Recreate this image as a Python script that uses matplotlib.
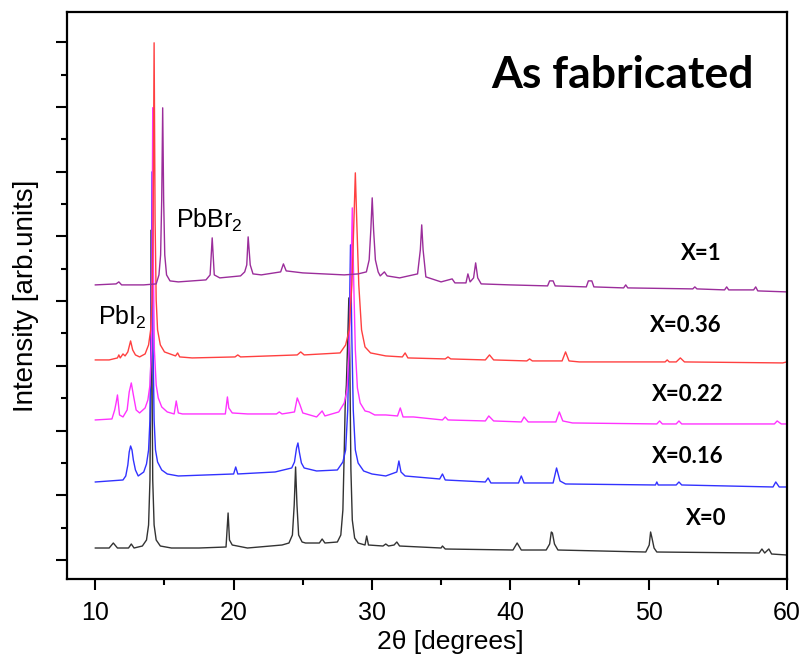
import numpy as np
import matplotlib
matplotlib.use("Agg")
import matplotlib.pyplot as plt
from matplotlib.ticker import MultipleLocator

plt.rcParams['font.family'] = ['Liberation Sans', 'DejaVu Sans']
plt.rcParams['mathtext.fontset'] = 'custom'
plt.rcParams['mathtext.rm'] = 'Liberation Sans'

# XRD patterns, intensity in arbitrary units (already stacked as in the figure)
x0_deg = [10.0, 11.0, 11.3, 11.6, 12.4, 12.6, 12.8, 13.4, 13.7, 13.85, 13.95, 14.0, 14.05, 14.1,
          14.15, 14.25, 14.4, 14.7, 15.5, 17.5, 19.45, 19.6, 19.7, 19.9, 21.0, 23.5, 24.0, 24.25,
          24.38, 24.48, 24.58, 24.7, 24.95, 25.2, 26.2, 26.4, 26.6, 27.5, 27.75, 27.9, 28.0,
          28.07, 28.15, 28.25, 28.33, 28.4, 28.48, 28.58, 28.75, 29.0, 29.5, 29.62, 29.75, 30.8,
          31.0, 31.2, 31.6, 31.8, 32.0, 35.0, 35.1, 35.3, 40.2, 40.5, 40.8, 42.6, 42.85, 42.97,
          43.05, 43.2, 43.45, 49.8, 50.05, 50.15, 50.25, 50.4, 50.6, 58.0, 58.2, 58.4, 58.7, 58.9,
          60.0]
x0_int = [12, 12, 17, 12, 12, 16, 12, 14, 20, 35, 80, 180, 330, 180,
          80, 35, 20, 14, 12, 12, 13, 47, 20, 15, 12, 15, 17, 25,
          55, 93, 55, 25, 18, 17, 17, 21, 17, 18, 25, 50, 110,
          157, 175, 220, 262, 200, 90, 40, 22, 17, 15, 24, 15, 14,
          16, 14, 15, 18, 14, 12, 14, 11, 10, 17, 10, 10, 16, 28,
          27, 16, 10, 8, 15, 28, 22, 12, 8, 7, 11, 7, 11, 6,
          5]

x016_deg = [10.0, 11.0, 12.0, 12.2, 12.35, 12.45, 12.55, 12.65, 12.75, 12.9, 13.1, 13.5, 13.7, 13.85,
            13.95, 14.03, 14.1, 14.17, 14.25, 14.35, 14.5, 14.8, 15.2, 16.0, 20.0, 20.15, 20.3,
            23.0, 24.2, 24.4, 24.55, 24.65, 24.75, 24.9, 25.1, 26.0, 27.5, 27.9, 28.1, 28.25,
            28.35, 28.45, 28.55, 28.65, 28.8, 29.0, 29.4, 30.0, 31.0, 31.8, 31.95, 32.1, 32.4,
            34.9, 35.1, 35.3, 38.2, 38.4, 38.6, 40.6, 40.8, 41.0, 43.1, 43.35, 43.6, 44.0, 50.5,
            50.6, 50.7, 52.0, 52.2, 52.4, 59.0, 59.2, 59.45, 60.0]
x016_int = [78, 79, 80, 84, 95, 108, 114, 110, 100, 90, 84, 88, 96, 110,
            140, 220, 388, 220, 140, 110, 98, 90, 86, 84, 86, 93, 86,
            88, 92, 98, 112, 117, 108, 97, 92, 89, 90, 98, 110, 150,
            220, 315, 220, 150, 110, 97, 89, 86, 84, 88, 99, 88, 84,
            81, 86, 80, 78, 82, 77, 77, 84, 77, 77, 92, 79, 76, 75,
            78, 75, 75, 78, 75, 73, 78, 73, 73]

x022_deg = [10.0, 11.2, 11.4, 11.5, 11.6, 11.75, 12.0, 12.3, 12.45, 12.6, 12.75, 12.95, 13.2, 13.6,
            13.8, 13.95, 14.05, 14.1, 14.15, 14.2, 14.27, 14.4, 14.55, 14.8, 15.2, 15.7, 15.85,
            16.0, 16.3, 19.4, 19.55, 19.65, 19.9, 21.0, 23.1, 23.3, 23.5, 24.4, 24.6, 24.8, 25.0,
            26.0, 26.4, 26.6, 27.6, 28.0, 28.2, 28.35, 28.48, 28.58, 28.68, 28.8, 28.95, 29.15,
            29.5, 29.8, 30.2, 31.0, 31.85, 32.05, 32.25, 33.0, 35.1, 35.3, 35.5, 38.2, 38.45, 38.8,
            40.8, 41.0, 41.3, 43.3, 43.55, 43.8, 44.5, 50.6, 50.8, 51.0, 52.0, 52.2, 52.4, 59.1,
            59.3, 59.6, 60.0]
x022_int = [140, 141, 150, 157, 165, 145, 143, 150, 168, 177, 165, 150, 147, 152,
            160, 175, 210, 290, 452, 290, 210, 175, 162, 153, 148, 146, 159,
            147, 146, 146, 163, 152, 147, 146, 146, 148, 146, 148, 162, 155, 147,
            143, 149, 144, 148, 157, 170, 210, 280, 352, 280, 210, 172, 157,
            149, 148, 145, 145, 144, 152, 143, 143, 140, 143, 140, 139, 144, 139,
            138, 143, 138, 138, 148, 139, 137, 136, 139, 136, 136, 139, 136, 136,
            139, 136, 136]

x036_deg = [10.0, 11.0, 11.6, 11.7, 11.8, 12.0, 12.15, 12.35, 12.55, 12.7, 12.9, 13.2, 13.6, 13.85,
            14.0, 14.1, 14.18, 14.25, 14.32, 14.4, 14.5, 14.7, 15.0, 15.8, 15.95, 16.1, 17.0,
            20.1, 20.3, 20.5, 24.6, 24.85, 25.1, 27.7, 28.1, 28.35, 28.55, 28.7, 28.8, 28.9,
            29.05, 29.25, 29.5, 29.9, 31.0, 32.2, 32.4, 32.6, 35.3, 35.5, 35.7, 38.2, 38.5, 38.8,
            41.2, 41.4, 41.6, 43.75, 44.0, 44.25, 45.0, 51.2, 51.35, 51.5, 52.0, 52.3, 52.6, 59.7,
            60.0]
x036_int = [200, 200, 202, 205, 202, 206, 204, 208, 219, 210, 205, 203, 206, 215,
            230, 260, 340, 517, 340, 260, 230, 215, 208, 204, 207, 203, 202,
            203, 205, 203, 205, 208, 205, 207, 215, 230, 275, 340, 387, 340,
            275, 230, 213, 207, 204, 203, 207, 202, 201, 203, 201, 200, 205, 200,
            199, 201, 199, 199, 208, 199, 198, 198, 200, 198, 198, 202, 198, 197,
            198]

x1_deg = [10.0, 11.5, 11.7, 11.9, 13.5, 14.4, 14.6, 14.72, 14.8, 14.87, 14.94, 15.02, 15.15, 15.4,
          16.0, 18.0, 18.3, 18.45, 18.6, 19.0, 20.5, 20.8, 20.95, 21.05, 21.2, 21.4, 22.0, 23.4,
          23.6, 23.8, 25.0, 28.0, 29.0, 29.6, 29.8, 29.92, 30.02, 30.12, 30.25, 30.45, 30.6,
          30.9, 31.1, 32.0, 33.3, 33.5, 33.6, 33.7, 33.9, 35.0, 35.8, 36.0, 36.8, 36.94, 37.1,
          37.35, 37.5, 37.65, 37.9, 40.0, 42.7, 42.85, 43.1, 43.25, 45.5, 45.65, 45.9, 46.05,
          48.2, 48.35, 48.5, 53.2, 53.35, 53.5, 55.5, 55.65, 55.8, 57.6, 57.75, 57.9, 60.0]
x1_int = [275, 276, 278, 275, 275, 276, 285, 305, 360, 452, 360, 305, 285, 279,
          278, 280, 285, 322, 285, 282, 284, 288, 295, 323, 295, 286, 285, 288,
          296, 289, 287, 285, 286, 288, 300, 330, 362, 330, 300, 288, 284,
          288, 284, 282, 286, 310, 335, 310, 283, 278, 281, 277, 277, 286, 278,
          282, 297, 282, 276, 275, 274, 279, 279, 274, 273, 279, 279, 273,
          272, 275, 272, 271, 273, 271, 270, 273, 270, 270, 273, 269, 268]

series = [
    (x0_deg, x0_int, '#333333'),
    (x016_deg, x016_int, '#3232ff'),
    (x022_deg, x022_int, '#ff33ff'),
    (x036_deg, x036_int, '#ff4040'),
    (x1_deg, x1_int, '#9b2d9b'),
]

fig = plt.figure(figsize=(8.07, 6.55), dpi=100)
ax = fig.add_axes([0.083, 0.116, 0.892, 0.866])

for xs, ys, col in series:
    ax.plot(xs, ys, color=col, lw=1.0)

# composition labels
lab_font = dict(ha='right', va='center', fontsize=16, fontweight='bold', family='Lato')
ax.text(55.3, 306, 'X=1', **lab_font)
ax.text(55.3, 234, 'X=0.36', **lab_font)
ax.text(55.4, 165, 'X=0.22', **lab_font)
ax.text(55.4, 103, 'X=0.16', **lab_font)
ax.text(55.6, 41, 'X=0', **lab_font)

ax.text(15.86, 332, 'PbBr$_2$', fontsize=18, ha='left', va='baseline')
ax.text(10.18, 235, 'PbI$_2$', fontsize=18, ha='left', va='baseline')

ax.text(0.7715, 0.866, 'As fabricated', transform=ax.transAxes, ha='center', va='baseline',
        fontsize=32, fontweight='bold', family='Lato')

ax.set_xlim(7.95, 60)
ax.set_ylim(-19, 548)
ax.xaxis.set_major_locator(MultipleLocator(10))
ax.xaxis.set_minor_locator(MultipleLocator(5))
ax.yaxis.set_major_locator(MultipleLocator(64.7))
ax.yaxis.set_minor_locator(MultipleLocator(32.35))
ax.set_xticks([10, 20, 30, 40, 50, 60])
ax.tick_params(which='major', direction='out', length=8, width=1.5, labelsize=18, pad=8)
ax.tick_params(which='minor', direction='out', length=4.5, width=1.5)
ax.tick_params(axis='y', labelleft=False)

for s in ax.spines.values():
    s.set_linewidth(1.6)

ax.set_xlabel('2θ [degrees]', fontsize=19)
ax.set_ylabel('Intensity [arb.units]', fontsize=20)
ax.xaxis.set_label_coords(0.532, -0.089)
ax.yaxis.set_label_coords(-0.039, 0.5)

fig.savefig('out.png', dpi=100)
